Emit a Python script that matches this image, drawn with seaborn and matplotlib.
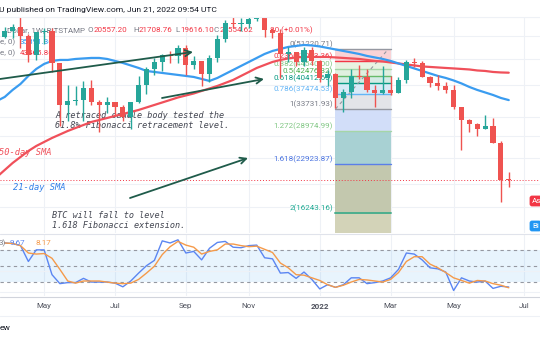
import numpy as np
import pandas as pd
import matplotlib
matplotlib.use("Agg")
import matplotlib.pyplot as plt
import seaborn as sns
from matplotlib.lines import Line2D

# ---------------- data ----------------
weeks = pd.date_range("2021-03-29", "2022-06-20", freq="W-MON")  # 65 weekly candles
opens = [55800, 58200, 59800, 56200, 49100, 57800, 58200, 46400, 34700, 35600, 35800, 39100, 35500,
         34700, 35300, 34250, 31800, 35400, 39850, 44600, 47000, 49300, 48900, 51800, 46000, 47250,
         43200, 48200, 54900, 61500, 61300, 61300, 63300, 65000, 58700, 57200, 49400, 50100, 46700,
         50800, 47300, 41900, 43100, 36300, 37900, 42400, 42200, 38400, 37700, 38400, 37800, 41300,
         46800, 46400, 42200, 40400, 39500, 38500, 34300, 31300, 30300, 29400, 29900, 26600, 20557.20]
highs = [60000, 61300, 64900, 57000, 57900, 59600, 59600, 46600, 39900, 39500, 40900, 41300, 35800,
         36600, 35500, 34700, 35400, 42600, 45300, 48100, 49700, 50500, 52900, 52900, 48800, 47300,
         49200, 56500, 62900, 67000, 63700, 64300, 69000, 66300, 59300, 59000, 51900, 50300, 51900,
         52100, 47600, 44400, 43500, 38900, 44500, 45800, 44700, 39800, 45400, 42500, 42300, 47600,
         48200, 47200, 42400, 42900, 40800, 39900, 34300, 31400, 30600, 32300, 31700, 26900, 21708.76]
lows = [55500, 55500, 51500, 47000, 47500, 53000, 43800, 30000, 31000, 34800, 31000, 34800, 28800,
        32700, 32100, 31100, 29300, 35200, 37500, 42800, 43900, 46400, 46600, 42900, 44700, 39600,
        40800, 46900, 53900, 59500, 58000, 59600, 62300, 55600, 55300, 42000, 46800, 45600, 45500,
        45800, 40600, 39600, 34000, 33000, 36300, 41700, 37900, 34300, 37500, 37100, 37600, 40500,
        45200, 42100, 39200, 38600, 37700, 33700, 25400, 28700, 28000, 29300, 26500, 17600, 19616.10]
closes = [58200, 59800, 56200, 49100, 57800, 58200, 46400, 34700, 35600, 35800, 39100, 35500, 34700,
          35300, 34250, 31800, 35400, 39850, 44600, 47000, 49300, 48900, 51800, 46000, 47250, 43200,
          48200, 54900, 61500, 61300, 61300, 63300, 65000, 58700, 57200, 49400, 50100, 46700, 50800,
          47300, 41900, 43100, 36300, 37900, 42400, 42200, 38400, 37700, 38400, 37800, 41300, 46800,
          46400, 42200, 40400, 39500, 38500, 34300, 31300, 30300, 29400, 29900, 26600, 20557.20, 20554.62]

sma_weeks = pd.date_range("2021-03-22", "2022-06-20", freq="W-MON")  # 66 points
sma21 = [35670, 36690, 38530, 40180, 42490, 44620, 46210, 47190, 47520, 47520, 47850, 48020, 48190,
         48190, 47850, 47190, 46530, 45730, 44930, 44000, 43690, 43390, 43090, 42790, 42490, 42190,
         41610, 41030, 41900, 43090, 44310, 45570, 46860, 48190, 49550, 50600, 51320, 52040, 52410,
         52770, 52590, 52220, 51680, 51140, 50600, 50080, 49550, 48870, 48360, 47850, 47190, 46370,
         45570, 44780, 44000, 43240, 42490, 41900, 41170, 40320, 39340, 38530, 37860, 37200, 36430,
         35891.36]
sma50 = [20970, 22020, 23120, 24110, 25150, 26040, 26780, 27540, 28220, 28920, 29540, 30160, 30800,
         31230, 31670, 32120, 32570, 33030, 33500, 34090, 34690, 35300, 35920, 36560, 37070, 37590,
         38260, 38930, 39620, 40460, 41320, 42490, 43690, 44930, 45890, 46860, 47520, 48020, 48360,
         48520, 48520, 48520, 48520, 48360, 48190, 48020, 47850, 47520, 47190, 47020, 46690, 46370,
         46050, 45730, 45410, 45250, 45090, 44930, 44780, 44620, 44460, 44150, 44000, 43690, 43540,
         43465.86]

stoch_k = [93, 92, 88, 58, 80, 80, 33, 16, 18, 18, 26, 19, 19, 19, 17, 10, 21, 36, 50, 60, 97, 93,
           99, 74, 77, 61, 83, 94, 96, 85, 84, 88, 89, 65, 63, 36, 37, 26, 38, 24, 6, 14, 9, 14, 27,
           27, 16, 18, 21, 27, 43, 74, 72, 61, 46, 44, 38, 3, 27, 21, 19, 21, 7, 11, 9.67]
stoch_d = [93, 92, 88, 74, 72, 73, 64, 43, 21, 17, 21, 21, 21, 19, 17, 16, 17, 24, 36, 49, 71, 86,
           96, 89, 85, 72, 77, 80, 91, 91, 88, 86, 87, 81, 75, 55, 46, 33, 32, 27, 22, 14, 9, 13, 19,
           24, 23, 21, 19, 24, 37, 58, 67, 67, 53, 46, 37, 27, 22, 17, 22, 21, 16, 13, 8.17]

fib_ratios = [0, 0.236, 0.382, 0.5, 0.618, 0.786, 1, 1.272, 1.618, 2]
fib_prices = [51220.71, 47093.36, 44540.00, 42476.32, 40412.65, 37474.53, 33731.93, 28974.99,
              22923.87, 16243.16]
fib_start, fib_end = "2022-01-17", "2022-03-07"

last_price = 20554.62
month_ticks = ["2021-05-03", "2021-07-05", "2021-09-06", "2021-11-01", "2022-01-03",
               "2022-03-07", "2022-05-02", "2022-07-04"]
month_labels = ["May", "Jul", "Sep", "Nov", "2022", "Mar", "May", "Jul"]

# ---------------- style ----------------
sns.set_theme(style="white")
plt.rcParams["font.family"] = ["Roboto", "DejaVu Sans"]

W, H = 540, 340
fig = plt.figure(figsize=(W / 100, H / 100), dpi=100)
fig.patch.set_facecolor("white")


def fx(px):
    return px / W


def fy(py):
    return 1 - py / H


def pt(px):
    return px * 0.72


t0 = weeks[0]


def wk(d):
    return (pd.Timestamp(d) - t0).days / 7.0


x = np.array([wk(d) for d in weeks])
xs = np.array([wk(d) for d in sma_weeks])
xlim = (-0.603, -0.603 + W / 7.875)

ax = fig.add_axes([0, fy(233), 1, (233 - 17) / H])
ax2 = fig.add_axes([0, fy(296), 1, (296 - 234) / H])
for a in (ax, ax2):
    a.set_xlim(*xlim)
    for s in a.spines.values():
        s.set_visible(False)
    a.set_facecolor("white")

ax.set_yscale("log")
ax.set_ylim(14172, 64160)
ax.set_xticks([])
ax.set_yticks([])
ax.minorticks_off()

grid_c = "#eef1f6"
for p in [64000, 56000, 48000, 40000, 32000, 28000, 24000, 20000, 17000]:
    ax.axhline(p, color=grid_c, lw=0.8, zorder=0)
tick_x = [wk(d) for d in month_ticks]
for tx in tick_x:
    ax.axvline(tx, color=grid_c, lw=0.8, zorder=0)
    ax2.axvline(tx, color=grid_c, lw=0.8, zorder=0)

# ---------------- fib box ----------------
bl, br = wk(fib_start), wk(fib_end)
fill_cols = ["#f9d3d6", "#e9f3e2", "#e0f0e0", "#d3ebe5", "#d9eaf7", "#e3e4e8",
             "#d2def9", "#a8d1d3", "#c3c8ae"]
for k in range(len(fib_prices) - 1):
    ax.fill_between([bl, br], fib_prices[k], fib_prices[k + 1], color=fill_cols[k], lw=0, zorder=1)
ax.fill_between([bl, br], fib_prices[-1], 14172, color="#d3d3b8", lw=0, zorder=1)
line_cols = ["#9598a1", "#f23645", "#a5d6a7", "#66bb6a", "#089981", "#64b5f6", "#9598a1",
             "#a5d6a7", "#5b7fe8", "#4caf8e"]
label_cols = ["#787b86", "#f23645", "#81c784", "#4caf50", "#089981", "#64b5f6", "#787b86",
              "#81c784", "#4a73e0", "#22ab94"]
for r, p, lc, tc in zip(fib_ratios, fib_prices, line_cols, label_cols):
    ax.plot([bl, br], [p, p], color=lc, lw=1.4 if r == 2 else 1.0, zorder=1.5)
    ax.text(bl - 0.35, p * 1.008, f"{r:g}({p:.2f})", color=tc, fontsize=pt(8.0),
            ha="right", va="bottom", zorder=1.6)
ax.plot([bl, br - 0.3], [fib_prices[6], fib_prices[0]], color="#9598a1", lw=0.8,
        ls=(0, (3, 3)), zorder=1.5)

# ---------------- price legend texts (under candles) ----------------
def ftext(px, py, s, color, size, **kw):
    ax.text(fx(px), fy(py), s, color=color, fontsize=pt(size), transform=fig.transFigure,
            va="center", ha="left", zorder=kw.pop("zorder", 2), **kw)


gray = "#787b86"
red = "#f23645"
ftext(7, 30, "Dollar, 1W, BITSTAMP", gray, 8)
for lx, letter, val in [(88, "O", "20557.20"), (133, "H", "21708.76"),
                        (175, "L", "19616.10"), (214, "C", "20554.62")]:
    ftext(lx, 30, letter, gray, 8)
    ftext(lx + 5.5, 30, val, red, 8)
ftext(270, 30, "80 (+0.01%)", red, 8)
ftext(0, 42, "e, 0)", gray, 8)
ftext(20, 42, "35891.36", "#2196f3", 8)
ftext(0, 53, "e, 0)", gray, 8)
ftext(20, 53, "43465.86", red, 8)

mono = dict(family="DejaVu Sans Mono", style="italic")
ftext(55, 115, "A retraced candle body tested the", "#434651", 8.5, **mono)
ftext(55, 126, "61.8% Fibonacci retracement level.", "#434651", 8.5, **mono)
ftext(-1, 153, "50-day SMA", "#f0505a", 8.8, **mono)
ftext(13, 188, "21-day SMA", "#2f7fe8", 8.8, **mono)
ftext(52, 215, "BTC will fall to level", "#434651", 8.5, **mono)
ftext(52, 226, "1.618 Fibonacci extension.", "#434651", 8.5, **mono)

# ---------------- moving averages ----------------
sns.lineplot(x=xs, y=sma50, ax=ax, color="#f0505a", lw=1.6, zorder=2.5)
sns.lineplot(x=xs, y=sma21, ax=ax, color="#3a9cf0", lw=1.6, zorder=2.5)

# current price line
ax.axhline(last_price, color=red, lw=0.7, ls=(0, (1, 2)), zorder=2)

# ---------------- candles ----------------
o = np.array(opens, float)
c = np.array(closes, float)
h = np.array(highs, float)
l = np.array(lows, float)
up = c >= o
cols = np.where(up, "#26a69a", "#ef5350")
ax.vlines(x, l, h, colors=cols, lw=1.0, zorder=3)
bottom = np.minimum(o, c)
height = np.maximum(np.abs(c - o), bottom * 0.006)
ax.bar(x, height, bottom=bottom, width=0.64, color=cols, lw=0, zorder=3.2)

ax.set_xlabel("")
ax.set_ylabel("")

# ---------------- arrows (drawings) ----------------
arrow_c = "#1f5b4a"
for (x0, y0, x1, y1) in [(0, 79, 193, 52), (162, 98, 264, 79), (130, 198, 248, 158)]:
    ax.annotate("", xy=(fx(x1), fy(y1)), xytext=(fx(x0), fy(y0)),
                xycoords="figure fraction", textcoords="figure fraction",
                arrowprops=dict(arrowstyle="->", color=arrow_c, lw=1.3, mutation_scale=11,
                                shrinkA=0, shrinkB=0), zorder=5)

# ---------------- stochastic ----------------
ax2.set_ylim(-7.4, 110)
ax2.axhspan(20, 80, color="#2196f3", alpha=0.1, lw=0, zorder=0.5)
for lvl in (80, 50, 20):
    ax2.axhline(lvl, color="#9598a1", lw=0.8, ls=(0, (3, 3)), zorder=1)
ax2.axhline(40, color=grid_c, lw=0.8, zorder=0.6)
ax2.axhline(0, color=grid_c, lw=0.8, zorder=0.6)
sns.lineplot(x=x, y=stoch_k, ax=ax2, color="#5b86f2", lw=1.0, zorder=3)
sns.lineplot(x=x, y=stoch_d, ax=ax2, color="#f59a4a", lw=1.0, zorder=3)
ax2.set_yticks([])
ax2.set_xlabel("")
ax2.set_ylabel("")
ax2.set_xticks(tick_x)
ax2.set_xticklabels(month_labels)
ax2.tick_params(axis="x", length=0, pad=pt(7), labelsize=pt(8), labelcolor="#50535e")
for lab in ax2.get_xticklabels():
    if lab.get_text() == "2022":
        lab.set_fontweight("bold")

fig.text(fx(-1), fy(243), "3)", color=gray, fontsize=pt(8), va="center")
fig.text(fx(10), fy(243), "9.67", color="#5b86f2", fontsize=pt(8), va="center")
fig.text(fx(36), fy(243), "8.17", color="#f59a4a", fontsize=pt(8), va="center")

# ---------------- frame lines, header, side labels ----------------
for yy, cc in [(17, "#eef1f6"), (233.5, "#e0e3eb"), (296.5, "#d1d4dc"), (315.5, "#eef1f6")]:
    fig.add_artist(Line2D([0, 1], [fy(yy), fy(yy)], color=cc, lw=0.8, transform=fig.transFigure))

fig.text(fx(-1), fy(10), "U published on TradingView.com, Jun 21, 2022 09:54 UTC",
         color="#131722", fontsize=pt(8.5), va="center", ha="left")
fig.text(fx(0), fy(328), "ew", color="#131722", fontsize=pt(8.5), va="center", ha="left")

fig.text(fx(532), fy(201), "As", color="white", fontsize=pt(8), va="center", ha="left",
         bbox=dict(boxstyle="round,pad=0.3", fc="#f23645", ec="none"))
fig.text(fx(532), fy(226), "Bi", color="white", fontsize=pt(8), va="center", ha="left",
         bbox=dict(boxstyle="round,pad=0.3", fc="#2196f3", ec="none"))

fig.savefig("out.png", dpi=100, facecolor="white")
